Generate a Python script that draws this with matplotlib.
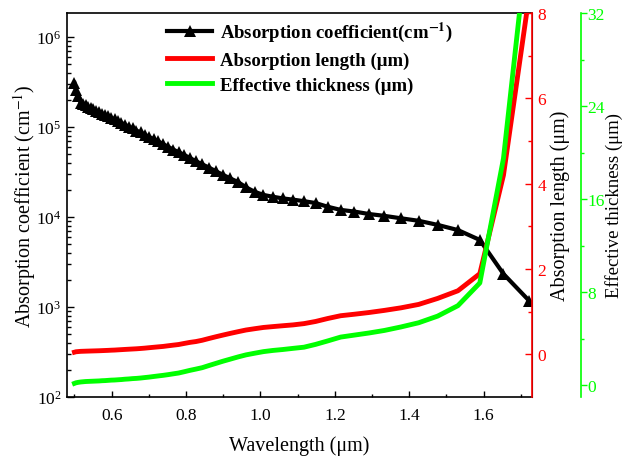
import math
import matplotlib
matplotlib.use("Agg")
import matplotlib.pyplot as plt
from matplotlib.ticker import MultipleLocator, LogLocator, FixedLocator, FuncFormatter, NullFormatter

plt.rcParams['font.family'] = ['Liberation Serif', 'DejaVu Serif']
plt.rcParams['mathtext.fontset'] = 'stix'

# Wavelength (um)
wavelength = [0.5000, 0.5041, 0.5103, 0.5167, 0.5232, 0.5299, 0.5368, 0.5439, 0.5511, 0.5586,
              0.5662, 0.5741, 0.5822, 0.5905, 0.5990, 0.6078, 0.6169, 0.6263, 0.6359, 0.6458,
              0.6561, 0.6667, 0.6776, 0.6889, 0.7006, 0.7126, 0.7251, 0.7381, 0.7515, 0.7654,
              0.7799, 0.7949, 0.8105, 0.8267, 0.8435, 0.8611, 0.8794, 0.8986, 0.9185, 0.9394,
              0.9612, 0.9841, 1.0081, 1.0333, 1.0598, 1.0877, 1.1171, 1.1481, 1.1810, 1.2157,
              1.2525, 1.2917, 1.3333, 1.3778, 1.4253, 1.4762, 1.5309, 1.5897, 1.6533, 1.7222]

# Absorption coefficient (cm^-1)
absorption_coeff = [309000, 257000, 224000, 186000, 180000, 174000, 168000, 162000, 157000, 151000,
                    146000, 141000, 136000, 132000, 126000, 122000, 116000, 111000, 106000, 101000,
                    96600, 91200, 87100, 82200, 77600, 73300, 69200, 64600, 60300, 56200,
                    52500, 49000, 45200, 41700, 38500, 35500, 32400, 29500, 26900, 24500,
                    21400, 19100, 17600, 16800, 16100, 15600, 15000, 14300, 13000, 12000,
                    11500, 10800, 10300, 9680, 9080, 8180, 7160, 5560, 2330, 1175]

# Absorption length (um)
absorption_length = [0.05, 0.06, 0.065, 0.07, 0.072, 0.074, 0.076, 0.078, 0.08, 0.082,
                     0.084, 0.087, 0.09, 0.093, 0.097, 0.10, 0.105, 0.11, 0.115, 0.12,
                     0.125, 0.13, 0.137, 0.145, 0.155, 0.165, 0.175, 0.185, 0.20, 0.215,
                     0.23, 0.255, 0.28, 0.30, 0.33, 0.37, 0.41, 0.45, 0.49, 0.53,
                     0.57, 0.60, 0.63, 0.65, 0.67, 0.69, 0.72, 0.77, 0.84, 0.905,
                     0.94, 0.98, 1.03, 1.09, 1.17, 1.31, 1.49, 1.89, 4.2, 8.4]

# Effective thickness (um)
effective_thickness = [0.17, 0.22, 0.26, 0.29, 0.31, 0.33, 0.34, 0.35, 0.36, 0.37,
                       0.38, 0.40, 0.41, 0.43, 0.45, 0.46, 0.48, 0.50, 0.53, 0.55,
                       0.58, 0.60, 0.63, 0.67, 0.71, 0.76, 0.81, 0.86, 0.92, 0.99,
                       1.06, 1.17, 1.29, 1.40, 1.52, 1.70, 1.88, 2.07, 2.25, 2.44,
                       2.62, 2.76, 2.90, 3.00, 3.08, 3.18, 3.28, 3.52, 3.82, 4.15,
                       4.32, 4.50, 4.72, 5.02, 5.38, 5.95, 6.85, 8.8, 19.5, 39.5]

legend_labels = ['Absorption coefficient(cm$^{\\mathbf{-1}}$)',
                 'Absorption length (μm)',
                 'Effective thickness (μm)']

RED = '#FF0000'
GREEN = '#00FF00'
LABEL_FS = 14.5
TICK_FS = 12.5

fig = plt.figure(figsize=(6.27, 4.6), dpi=100)
ax1 = fig.add_axes([67/627, 1-398/460, (532-67)/627, (398-14)/460])
ax2 = ax1.twinx()
ax3 = ax1.twinx()

l1, = ax1.plot(wavelength, absorption_coeff, color='black', lw=3, marker='^', ms=8,
               markeredgewidth=0, label=legend_labels[0])
ax1.set_yscale('log')
ax1.set_ylim(100, 1.85e6)
ax1.set_xlim(0.48, 1.73)

l2, = ax2.plot(wavelength, absorption_length, color=RED, lw=3.5, label=legend_labels[1])
ax2.set_ylim(-1, 8)

l3, = ax3.plot(wavelength, effective_thickness, color=GREEN, lw=3.5, label=legend_labels[2])
ax3.set_ylim(-1, 32)
ax3.spines['right'].set_position(('outward', 35))

# x axis
ax1.xaxis.set_major_locator(FixedLocator([0.6, 0.8, 1.0, 1.2, 1.4, 1.6]))
ax1.xaxis.set_minor_locator(FixedLocator([0.5, 0.7, 0.9, 1.1, 1.3, 1.5, 1.7]))
ax1.xaxis.set_major_formatter(FuncFormatter(lambda v, p: f'{v:.1f}'))
ax1.tick_params(axis='x', which='major', direction='in', length=4.5, width=1, labelsize=TICK_FS, pad=7)
ax1.tick_params(axis='x', which='minor', direction='in', length=2.5, width=1)
ax1.tick_params(axis='x', top=False)

# left log axis
ax1.yaxis.set_major_locator(LogLocator(base=10, numticks=10))
ax1.yaxis.set_minor_locator(LogLocator(base=10, subs=range(2, 10), numticks=20))
ax1.yaxis.set_minor_formatter(NullFormatter())
ax1.yaxis.set_major_formatter(FuncFormatter(lambda v, p: r'$\mathregular{10^{%d}}$' % round(math.log10(v))))
ax1.tick_params(axis='y', which='major', direction='in', length=5, width=1, labelsize=TICK_FS, pad=4)
ax1.tick_params(axis='y', which='minor', direction='in', length=3, width=1)
ax1.set_ylabel('Absorption coefficient (cm$^{-1}$)', fontsize=LABEL_FS, labelpad=-1.5)
ax1.set_xlabel('Wavelength (μm)', fontsize=LABEL_FS, labelpad=9)
for s in ['left', 'bottom', 'top']:
    ax1.spines[s].set_linewidth(1.2)

# red axis
ax2.yaxis.set_major_locator(MultipleLocator(2))
ax2.yaxis.set_minor_locator(FixedLocator([1, 3, 5, 7]))
ax2.yaxis.set_major_formatter(FuncFormatter(lambda v, p: f'{v:.0f}'))
ax2.tick_params(axis='y', which='major', direction='in', length=5, width=1, colors=RED, labelsize=TICK_FS, pad=4)
ax2.tick_params(axis='y', which='minor', direction='in', length=3, width=1, colors=RED)
ax2.spines['right'].set_color(RED)
ax2.spines['right'].set_linewidth(1.2)
ax2.set_ylabel('Absorption length (μm)', fontsize=LABEL_FS, color='black', labelpad=3)

# green axis
ax3.yaxis.set_major_locator(MultipleLocator(8))
ax3.yaxis.set_minor_locator(FixedLocator([4, 12, 20, 28]))
ax3.yaxis.set_major_formatter(FuncFormatter(lambda v, p: f'{v:.0f}'))
ax3.tick_params(axis='y', which='major', direction='out', length=4.5, width=1, colors=GREEN, labelsize=TICK_FS, pad=0.5)
ax3.tick_params(axis='y', which='minor', direction='out', length=2.5, width=1, colors=GREEN)
ax3.spines['right'].set_color(GREEN)
ax3.spines['right'].set_linewidth(1.2)
ax3.set_ylabel('Effective thickness (μm)', fontsize=13.5, color='black', labelpad=0)

for ax in (ax2, ax3):
    ax.spines['left'].set_visible(False)
    ax.spines['top'].set_visible(False)
    ax.spines['bottom'].set_visible(False)

leg = ax3.legend(handles=[l1, l2, l3], loc='upper left', bbox_to_anchor=(167/627, 1-21/460),
                 bbox_transform=fig.transFigure, frameon=False, numpoints=1,
                 prop={'weight': 'bold', 'size': 13.5}, handlelength=2.4, handletextpad=0.4,
                 labelspacing=0.42, borderaxespad=0, borderpad=0)

fig.savefig('out.png', dpi=100)
